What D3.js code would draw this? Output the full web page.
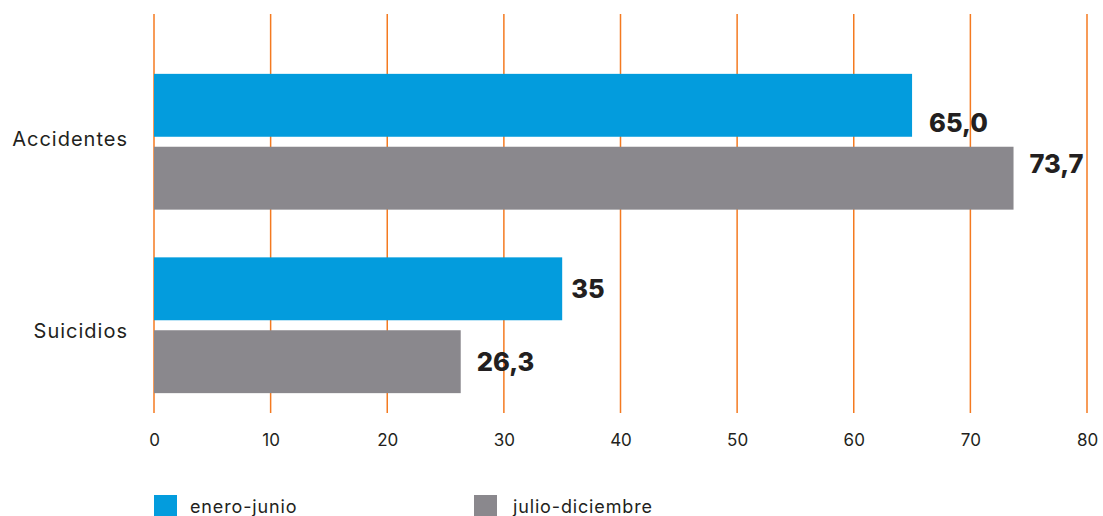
<!DOCTYPE html>
<html><head><meta charset="utf-8">
<script src="https://cdn.jsdelivr.net/npm/d3@7"></script>
<style>body{margin:0;background:#fff}svg{display:block}text{font-family:Inter,"Noto Sans",sans-serif;fill:#231f20}</style>
</head><body>
<script>
const categories = ["Accidentes", "Suicidios"];
const series = ["enero-junio", "julio-diciembre"];
const valuesEneroJunio = [65.0, 35];
const valuesJulioDiciembre = [73.7, 26.3];
const valueLabelsEneroJunio = ["65,0", "35"];
const valueLabelsJulioDiciembre = ["73,7", "26,3"];
const xTicks = [0, 10, 20, 30, 40, 50, 60, 70, 80];
const colors = ["#039cdd", "#8a888d"];

const W = 1103, H = 516;
const svg = d3.select("body").append("svg").attr("width", W).attr("height", H);

const x = d3.scaleLinear().domain([0, 80]).range([154, 1087]);
const y0 = d3.scaleBand().domain(categories).range([50, 417]).paddingInner(0.26).paddingOuter(0.13);
const y1 = d3.scaleBand().domain(series).range([0, y0.bandwidth()]).paddingInner(0.137).paddingOuter(0);

// gridlines
svg.append("g").selectAll("line").data(xTicks).join("line")
  .attr("x1", d => x(d)).attr("x2", d => x(d))
  .attr("y1", 14).attr("y2", 413)
  .attr("stroke", "#f47a20").attr("stroke-width", 1.5);

// x axis labels
const xAxis = d3.axisBottom(x).tickValues(xTicks).tickSize(0).tickPadding(0).tickFormat(d3.format("d"));
const gx = svg.append("g").attr("transform", "translate(0,433)").call(xAxis);
gx.select(".domain").remove();
gx.selectAll("text").attr("font-size", 17).attr("fill", "#231f20").attr("font-family", "Inter,'Noto Sans',sans-serif").attr("dy", "0.75em");

// category labels
const catShift = [-2, 6];
const yAxis = d3.axisLeft(y0).tickSize(0).tickPadding(26);
const gy = svg.append("g").attr("transform", "translate(154,0)").call(yAxis);
gy.select(".domain").remove();
gy.selectAll("text").attr("font-size", 20).attr("fill", "#231f20").attr("font-family", "Inter,'Noto Sans',sans-serif").attr("letter-spacing", 1.0)
  .attr("y", (d, i) => catShift[i]);

const rows = [];
categories.forEach((c, i) => {
  rows.push({cat: c, s: series[0], v: valuesEneroJunio[i], lab: valueLabelsEneroJunio[i], ci: 0, i});
  rows.push({cat: c, s: series[1], v: valuesJulioDiciembre[i], lab: valueLabelsJulioDiciembre[i], ci: 1, i});
});

svg.append("g").selectAll("rect").data(rows).join("rect")
  .attr("x", x(0)).attr("y", d => y0(d.cat) + y1(d.s))
  .attr("width", d => x(d.v) - x(0)).attr("height", y1.bandwidth())
  .attr("fill", d => colors[d.ci]);

// label vertical nudges, as in the original layout
const labelShift = [[17, -15], [0, 0]];
const labelGap = [[17, 16], [9, 16]];
svg.append("g").selectAll("text").data(rows).join("text")
  .attr("x", d => x(d.v) + labelGap[d.i][d.ci])
  .attr("y", d => y0(d.cat) + y1(d.s) + y1.bandwidth() / 2 + 9.5 + labelShift[d.i][d.ci])
  .attr("font-size", 25.5).attr("font-weight", 800)
  .text(d => d.lab);

// legend
const leg = svg.append("g");
const legX = [154, 474];
series.forEach((s, i) => {
  leg.append("rect").attr("x", legX[i]).attr("y", 495).attr("width", 23).attr("height", 22).attr("fill", colors[i]);
  leg.append("text").attr("x", legX[i] + 36 + i * 3).attr("y", 513).attr("font-size", 18).attr("letter-spacing", 0.85).text(s);
});
</script>
</body></html>
